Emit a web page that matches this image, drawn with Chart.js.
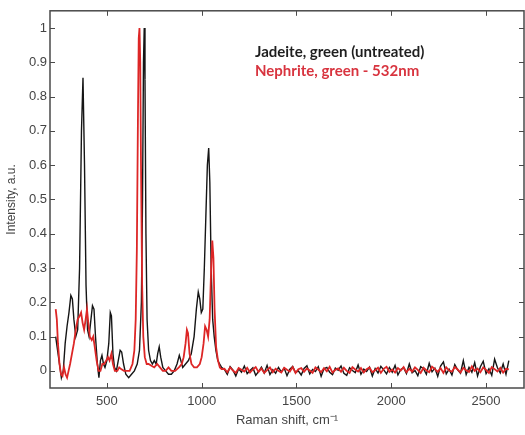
<!DOCTYPE html>
<html>
<head>
<meta charset="utf-8">
<script src="https://cdn.jsdelivr.net/npm/chart.js@4.4.1/dist/chart.umd.min.js"></script>
<style>
html,body{margin:0;padding:0;background:#fff;}
#wrap{width:525px;height:435px;position:relative;}
</style>
</head>
<body>
<div id="wrap"><canvas id="c" width="525" height="435"></canvas></div>
<script>
// ---- data ----
const seriesLabels = ['Jadeite, green (untreated)', 'Nephrite, green - 532nm'];
const xTicks = [500, 1000, 1500, 2000, 2500];
const yTicks = [0, 0.1, 0.2, 0.3, 0.4, 0.5, 0.6, 0.7, 0.8, 0.9, 1];

const jadeitePeakShift = [230,240,250,260,270,280,290,300,310,318,326,336,346,356,366,374,382,390,398,406,414,424,432,440,450,458,466,474,482,490,500,510,518,524,532,540,550,560,570,578,588,600,615,630,645,660,672,682,688,693,697,701,706,712,720,730,740,750,760,768,776,784,795,810,825,840,855,870,882,890,900,915,930,945,960,972,982,990,998,1006,1014,1022,1030,1037,1043,1050,1058,1066,1075,1085,1095,1105];
const jadeitePeakIntensity = [0.10,0.06,0.02,-0.02,0.00,0.08,0.13,0.17,0.22,0.21,0.15,0.10,0.12,0.30,0.70,0.855,0.60,0.25,0.12,0.10,0.14,0.19,0.18,0.10,0.02,-0.02,0.03,0.045,0.02,0.01,0.03,0.08,0.17,0.16,0.05,0.01,0.00,0.03,0.06,0.055,0.02,-0.01,-0.02,-0.01,0.00,0.02,0.06,0.20,0.50,0.90,1.00,0.85,0.40,0.15,0.06,0.03,0.02,0.03,0.02,0.05,0.07,0.04,0.01,0.00,-0.01,-0.01,0.00,0.02,0.045,0.03,0.01,0.02,0.03,0.05,0.10,0.18,0.23,0.21,0.17,0.18,0.30,0.45,0.60,0.65,0.55,0.30,0.15,0.10,0.06,0.03,0.02,0.01];

const nephritePeakShift = [230,236,242,250,258,266,274,282,290,298,306,316,326,336,346,356,364,372,380,388,395,402,410,420,428,436,446,456,466,476,486,496,506,514,524,532,542,555,565,575,590,605,620,635,645,652,658,664,668,672,676,680,686,692,700,710,720,735,750,765,780,795,810,825,840,860,880,895,905,915,922,928,936,946,960,975,990,1000,1010,1018,1026,1034,1042,1050,1056,1062,1068,1076,1086,1096,1105];
const nephritePeakIntensity = [0.18,0.15,0.08,0.02,-0.01,-0.015,0.01,-0.01,-0.02,0.00,0.02,0.05,0.08,0.12,0.15,0.16,0.17,0.14,0.12,0.15,0.18,0.14,0.10,0.09,0.10,0.07,0.03,0.00,0.00,0.02,0.02,0.03,0.04,0.03,0.05,0.02,0.00,0.00,0.01,0.005,0.00,0.00,0.00,0.02,0.06,0.15,0.35,0.75,0.97,1.00,0.90,0.60,0.25,0.10,0.04,0.02,0.02,0.015,0.01,0.02,0.01,0.00,0.00,0.01,0.00,0.00,0.01,0.02,0.04,0.08,0.12,0.11,0.05,0.02,0.01,0.01,0.02,0.04,0.08,0.13,0.12,0.10,0.15,0.30,0.38,0.33,0.18,0.07,0.03,0.01,0.005];

const baselineShift = [1120,1135,1150,1165,1180,1195,1210,1225,1240,1255,1270,1285,1300,1315,1330,1345,1360,1375,1390,1405,1420,1435,1450,1465,1480,1495,1510,1525,1540,1555,1570,1585,1600,1615,1630,1645,1660,1675,1690,1705,1720,1735,1750,1765,1780,1795,1810,1825,1840,1855,1870,1885,1900,1915,1930,1945,1960,1975,1990,2005,2020,2035,2050,2065,2080,2095,2110,2125,2140,2155,2170,2185,2200,2215,2230,2245,2260,2275,2290,2305,2320,2335,2350,2365,2380,2395,2410,2425,2440,2455,2470,2485,2500,2515,2530,2545,2560,2575,2590,2605,2620];
const jadeiteBaseline = [0.004,-0.010,0.012,0.002,-0.015,0.006,-0.004,0.014,-0.008,0.001,
0.009,-0.013,-0.002,0.011,-0.006,0.016,-0.011,0.003,-0.007,0.010,
-0.003,0.008,-0.014,0.005,0.013,-0.005,0.000,-0.012,0.007,0.015,
-0.009,0.004,-0.002,0.012,-0.016,0.006,0.010,-0.004,-0.011,0.008,
0.002,0.014,-0.007,-0.013,0.009,0.001,-0.005,0.017,-0.010,0.005,
-0.002,0.011,-0.015,0.007,-0.006,0.013,0.003,-0.009,0.010,-0.004,
0.016,-0.012,0.004,0.009,-0.008,0.020,-0.006,0.001,-0.014,0.012,
0.006,-0.010,0.022,-0.003,0.008,-0.016,0.014,0.026,-0.009,0.005,
-0.012,0.018,0.003,-0.007,0.030,-0.011,0.010,-0.004,0.024,-0.015,
0.012,0.028,-0.008,0.006,-0.013,0.034,0.009,-0.006,0.020,-0.010,
0.030];
const nephriteBaseline = [0.006,-0.004,0.010,0.001,-0.006,0.008,0.003,-0.002,0.009,-0.005,
0.004,0.011,-0.003,0.007,-0.006,0.002,0.010,-0.004,0.006,0.000,
-0.005,0.009,0.003,-0.002,0.011,-0.006,0.005,0.008,-0.003,0.007,
0.001,-0.006,0.010,0.004,-0.004,0.008,-0.001,0.012,-0.005,0.003,
0.007,-0.003,0.009,0.000,-0.006,0.011,0.004,-0.002,0.008,-0.005,
0.005,0.010,-0.004,0.002,0.009,-0.006,0.006,0.012,-0.003,0.004,
-0.005,0.008,0.001,0.011,-0.004,0.006,-0.002,0.010,0.003,-0.006,
0.009,0.002,-0.004,0.012,0.005,-0.003,0.008,-0.006,0.010,0.001,
-0.002,0.011,0.004,-0.005,0.009,0.002,-0.003,0.013,0.000,0.007,
-0.004,0.010,0.003,-0.006,0.011,0.005,-0.002,0.009,-0.005,0.006,
0.004];

// ---- build points ----
function pts(xs, ys) { return xs.map((x, i) => ({x: x, y: ys[i]})); }
const jadeitePts = pts(jadeitePeakShift, jadeitePeakIntensity).concat(pts(baselineShift, jadeiteBaseline));
const nephritePts = pts(nephritePeakShift, nephritePeakIntensity).concat(pts(baselineShift, nephriteBaseline));

const AXIS = '#4a4a4a';
const TXT = '#444';

const boxPlugin = {
  id: 'boxTicks',
  afterDraw(chart) {
    const {ctx, chartArea: a, scales: {x, y}} = chart;
    ctx.save();
    ctx.strokeStyle = AXIS;
    ctx.lineWidth = 1.5;
    ctx.strokeRect(a.left, a.top, a.right - a.left, a.bottom - a.top);
    ctx.lineWidth = 1;
    const L = 5;
    ctx.beginPath();
    xTicks.forEach(v => {
      const px = Math.round(x.getPixelForValue(v)) + 0.5;
      ctx.moveTo(px, a.bottom); ctx.lineTo(px, a.bottom - L);
      ctx.moveTo(px, a.top); ctx.lineTo(px, a.top + L);
    });
    yTicks.forEach(v => {
      const py = Math.round(y.getPixelForValue(v)) + 0.5;
      ctx.moveTo(a.left, py); ctx.lineTo(a.left + L, py);
      ctx.moveTo(a.right, py); ctx.lineTo(a.right - L, py);
    });
    ctx.stroke();
    // legend text
    ctx.font = 'bold 15px Lato, "Liberation Sans", sans-serif';
    ctx.textBaseline = 'middle';
    ctx.textAlign = 'left';
    ctx.fillStyle = '#1e1e1e';
    ctx.fillText(chart.data.datasets[0].label, 255, 52);
    ctx.fillStyle = '#d8343f';
    ctx.fillText(chart.data.datasets[1].label, 255, 71);
    ctx.restore();
  }
};

new Chart(document.getElementById('c'), {
  type: 'line',
  data: {
    datasets: [
      {label: seriesLabels[0], data: jadeitePts, borderColor: '#151515', borderWidth: 1.4, pointRadius: 0, tension: 0, order: 2},
      {label: seriesLabels[1], data: nephritePts, borderColor: '#dd2626', borderWidth: 1.8, pointRadius: 0, tension: 0, order: 1}
    ]
  },
  options: {
    responsive: false,
    animation: false,
    events: [],
    layout: {padding: {top: 10, right: 1, left: 0, bottom: 0}},
    plugins: {legend: {display: false}, tooltip: {enabled: false}},
    scales: {
      x: {
        type: 'linear', min: 200, max: 2700,
        grid: {display: false, drawTicks: false},
        border: {display: false},
        afterBuildTicks: s => { s.ticks = xTicks.map(v => ({value: v})); },
        afterFit: s => { s.height = 47; },
        ticks: {padding: 6, color: TXT, font: {family: '"Liberation Sans", Arial, sans-serif', size: 13}, maxRotation: 0, callback: v => String(v)},
        title: {display: true, text: 'Raman shift, cm⁻¹', color: TXT, font: {family: '"Liberation Sans", Arial, sans-serif', size: 13}, padding: {top: 0, bottom: 7}}
      },
      y: {
        type: 'linear', min: -0.05, max: 1.05,
        grid: {display: false, drawTicks: false},
        border: {display: false},
        afterBuildTicks: s => { s.ticks = yTicks.map(v => ({value: v})); },
        afterFit: s => { s.width = 50; },
        ticks: {padding: 3, color: TXT, font: {family: '"Liberation Sans", Arial, sans-serif', size: 13}, callback: v => String(Math.round(v * 10) / 10)},
        title: {display: true, text: 'Intensity, a.u.', color: TXT, font: {family: '"Liberation Sans", Arial, sans-serif', size: 12}, padding: {top: 4, bottom: 0}}
      }
    }
  },
  plugins: [boxPlugin]
});
</script>
</body>
</html>
